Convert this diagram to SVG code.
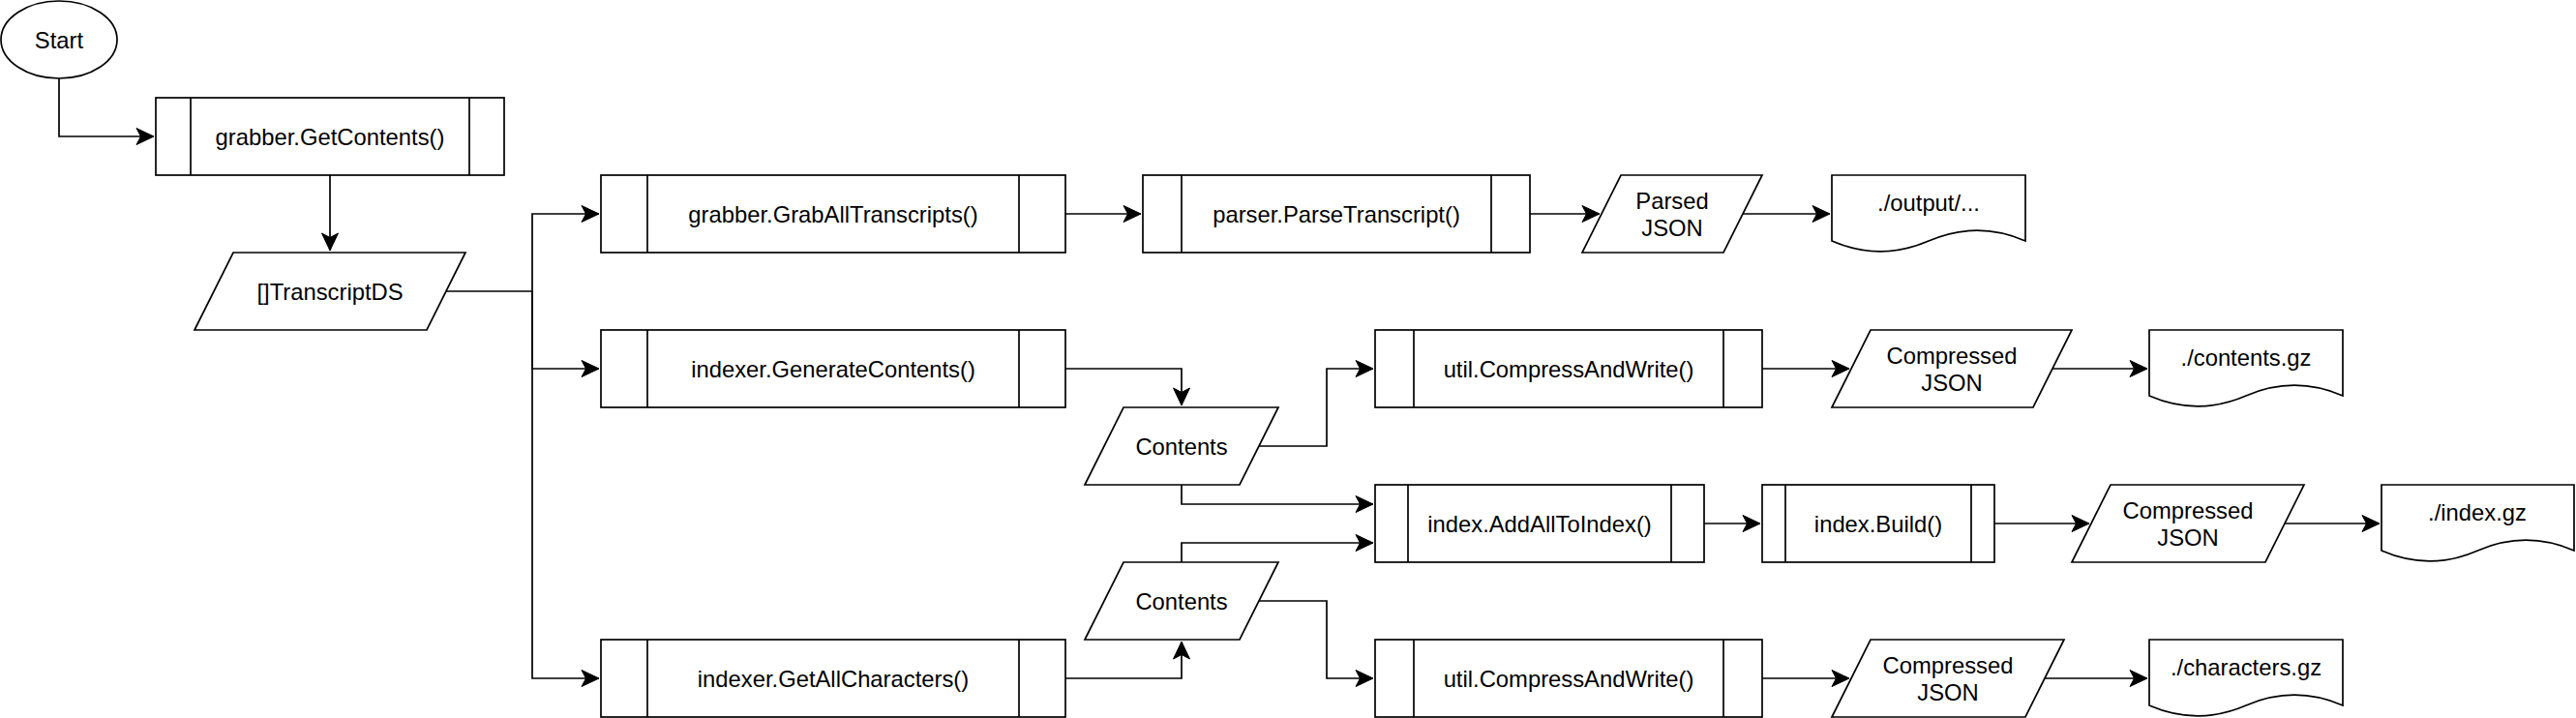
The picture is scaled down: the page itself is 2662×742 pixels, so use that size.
<svg xmlns="http://www.w3.org/2000/svg" width="2662" height="742" viewBox="0 0 2662 742">
<style>
.s{fill:#fff;stroke:#000;stroke-width:1.7}
.l{fill:none;stroke:#000;stroke-width:1.7}
.c{fill:none;stroke:#000;stroke-width:1.7;marker-end:url(#arr)}
text{font-family:"Liberation Sans",Arial,Helvetica,sans-serif;font-size:23.8px;fill:#000;text-anchor:middle}
</style>
<defs>
<marker id="arr" markerUnits="userSpaceOnUse" markerWidth="20" markerHeight="20" viewBox="-19 -10 20 20" refX="0" refY="0" orient="auto">
<path d="M0,0 L-18,-8.5 L-13.5,0 L-18,8.5 Z" fill="#000" stroke="#000" stroke-width="1"/>
</marker>
</defs>
<g id="connectors">
<path class="c" d="M61,81 V141 H159"/>
<path class="c" d="M341,181 V259"/>
<path class="c" d="M461,301 H550 V221 H619"/>
<path class="c" d="M550,301 V381 H619"/>
<path class="c" d="M550,301 V701 H619"/>
<path class="c" d="M1101,221 H1179"/>
<path class="c" d="M1581,221 H1653"/>
<path class="c" d="M1801,221 H1891"/>
<path class="c" d="M1101,381 H1221 V419"/>
<path class="c" d="M1301,461 H1371 V381 H1419"/>
<path class="c" d="M1221,501 V521 H1419"/>
<path class="c" d="M1221,581 V561 H1419"/>
<path class="c" d="M1301,621 H1371 V701 H1419"/>
<path class="c" d="M1101,701 H1221 V663"/>
<path class="c" d="M1821,381 H1911"/>
<path class="c" d="M2121,381 H2219"/>
<path class="c" d="M1761,541 H1819"/>
<path class="c" d="M2061,541 H2159"/>
<path class="c" d="M2361,541 H2459"/>
<path class="c" d="M1821,701 H1911"/>
<path class="c" d="M2113,701 H2219"/>
</g>
<g id="start">
<ellipse class="s" cx="61" cy="41" rx="60" ry="40"/>
<text x="61" y="49.5">Start</text>
</g>
<g id="getcontents">
<rect class="s" x="161" y="101" width="360" height="80"/>
<path class="l" d="M197,101 V181 M485,101 V181"/>
<text x="341" y="150">grabber.GetContents()</text>
</g>
<g id="transcriptds">
<polygon class="s" points="241,261 481,261 441,341 201,341"/>
<text x="341" y="309.5">[]TranscriptDS</text>
</g>
<g id="graball">
<rect class="s" x="621" y="181" width="480" height="80"/>
<path class="l" d="M669,181 V261 M1053,181 V261"/>
<text x="861" y="230">grabber.GrabAllTranscripts()</text>
</g>
<g id="gencontents">
<rect class="s" x="621" y="341" width="480" height="80"/>
<path class="l" d="M669,341 V421 M1053,341 V421"/>
<text x="861" y="390">indexer.GenerateContents()</text>
</g>
<g id="getallchars">
<rect class="s" x="621" y="661" width="480" height="80"/>
<path class="l" d="M669,661 V741 M1053,661 V741"/>
<text x="861" y="710">indexer.GetAllCharacters()</text>
</g>
<g id="parse">
<rect class="s" x="1181" y="181" width="400" height="80"/>
<path class="l" d="M1221,181 V261 M1541,181 V261"/>
<text x="1381" y="230">parser.ParseTranscript()</text>
</g>
<g id="parsedjson">
<polygon class="s" points="1675,181 1821,181 1781,261 1635,261"/>
<text x="1728" y="215.5">Parsed</text>
<text x="1728" y="244">JSON</text>
</g>
<g id="output">
<path class="s" d="M1893,181 H2093 V249 Q2043,227.4 1993,249 Q1943,270.6 1893,249 Z"/>
<text x="1993" y="218">./output/...</text>
</g>
<g id="contents1">
<polygon class="s" points="1161,421 1321,421 1281,501 1121,501"/>
<text x="1221" y="469.5">Contents</text>
</g>
<g id="contents2">
<polygon class="s" points="1161,581 1321,581 1281,661 1121,661"/>
<text x="1221" y="629.5">Contents</text>
</g>
<g id="compress1">
<rect class="s" x="1421" y="341" width="400" height="80"/>
<path class="l" d="M1461,341 V421 M1781,341 V421"/>
<text x="1621" y="390">util.CompressAndWrite()</text>
</g>
<g id="compjson1">
<polygon class="s" points="1933,341 2141,341 2101,421 1893,421"/>
<text x="2017" y="375.5">Compressed</text>
<text x="2017" y="404">JSON</text>
</g>
<g id="contentsgz">
<path class="s" d="M2221,341 H2421 V409 Q2371,387.4 2321,409 Q2271,430.6 2221,409 Z"/>
<text x="2321" y="378">./contents.gz</text>
</g>
<g id="addall">
<rect class="s" x="1421" y="501" width="340" height="80"/>
<path class="l" d="M1455,501 V581 M1727,501 V581"/>
<text x="1591" y="550">index.AddAllToIndex()</text>
</g>
<g id="build">
<rect class="s" x="1821" y="501" width="240" height="80"/>
<path class="l" d="M1845,501 V581 M2037,501 V581"/>
<text x="1941" y="550">index.Build()</text>
</g>
<g id="compjson2">
<polygon class="s" points="2181,501 2381,501 2341,581 2141,581"/>
<text x="2261" y="535.5">Compressed</text>
<text x="2261" y="564">JSON</text>
</g>
<g id="indexgz">
<path class="s" d="M2461,501 H2660 V569 Q2610.25,547.4 2560.5,569 Q2510.75,590.6 2461,569 Z"/>
<text x="2560" y="538">./index.gz</text>
</g>
<g id="compress2">
<rect class="s" x="1421" y="661" width="400" height="80"/>
<path class="l" d="M1461,661 V741 M1781,661 V741"/>
<text x="1621" y="710">util.CompressAndWrite()</text>
</g>
<g id="compjson3">
<polygon class="s" points="1933,661 2133,661 2093,741 1893,741"/>
<text x="2013" y="695.5">Compressed</text>
<text x="2013" y="724">JSON</text>
</g>
<g id="charsgz">
<path class="s" d="M2221,661 H2421 V729 Q2371,707.4 2321,729 Q2271,750.6 2221,729 Z"/>
<text x="2321" y="698">./characters.gz</text>
</g>
</svg>
